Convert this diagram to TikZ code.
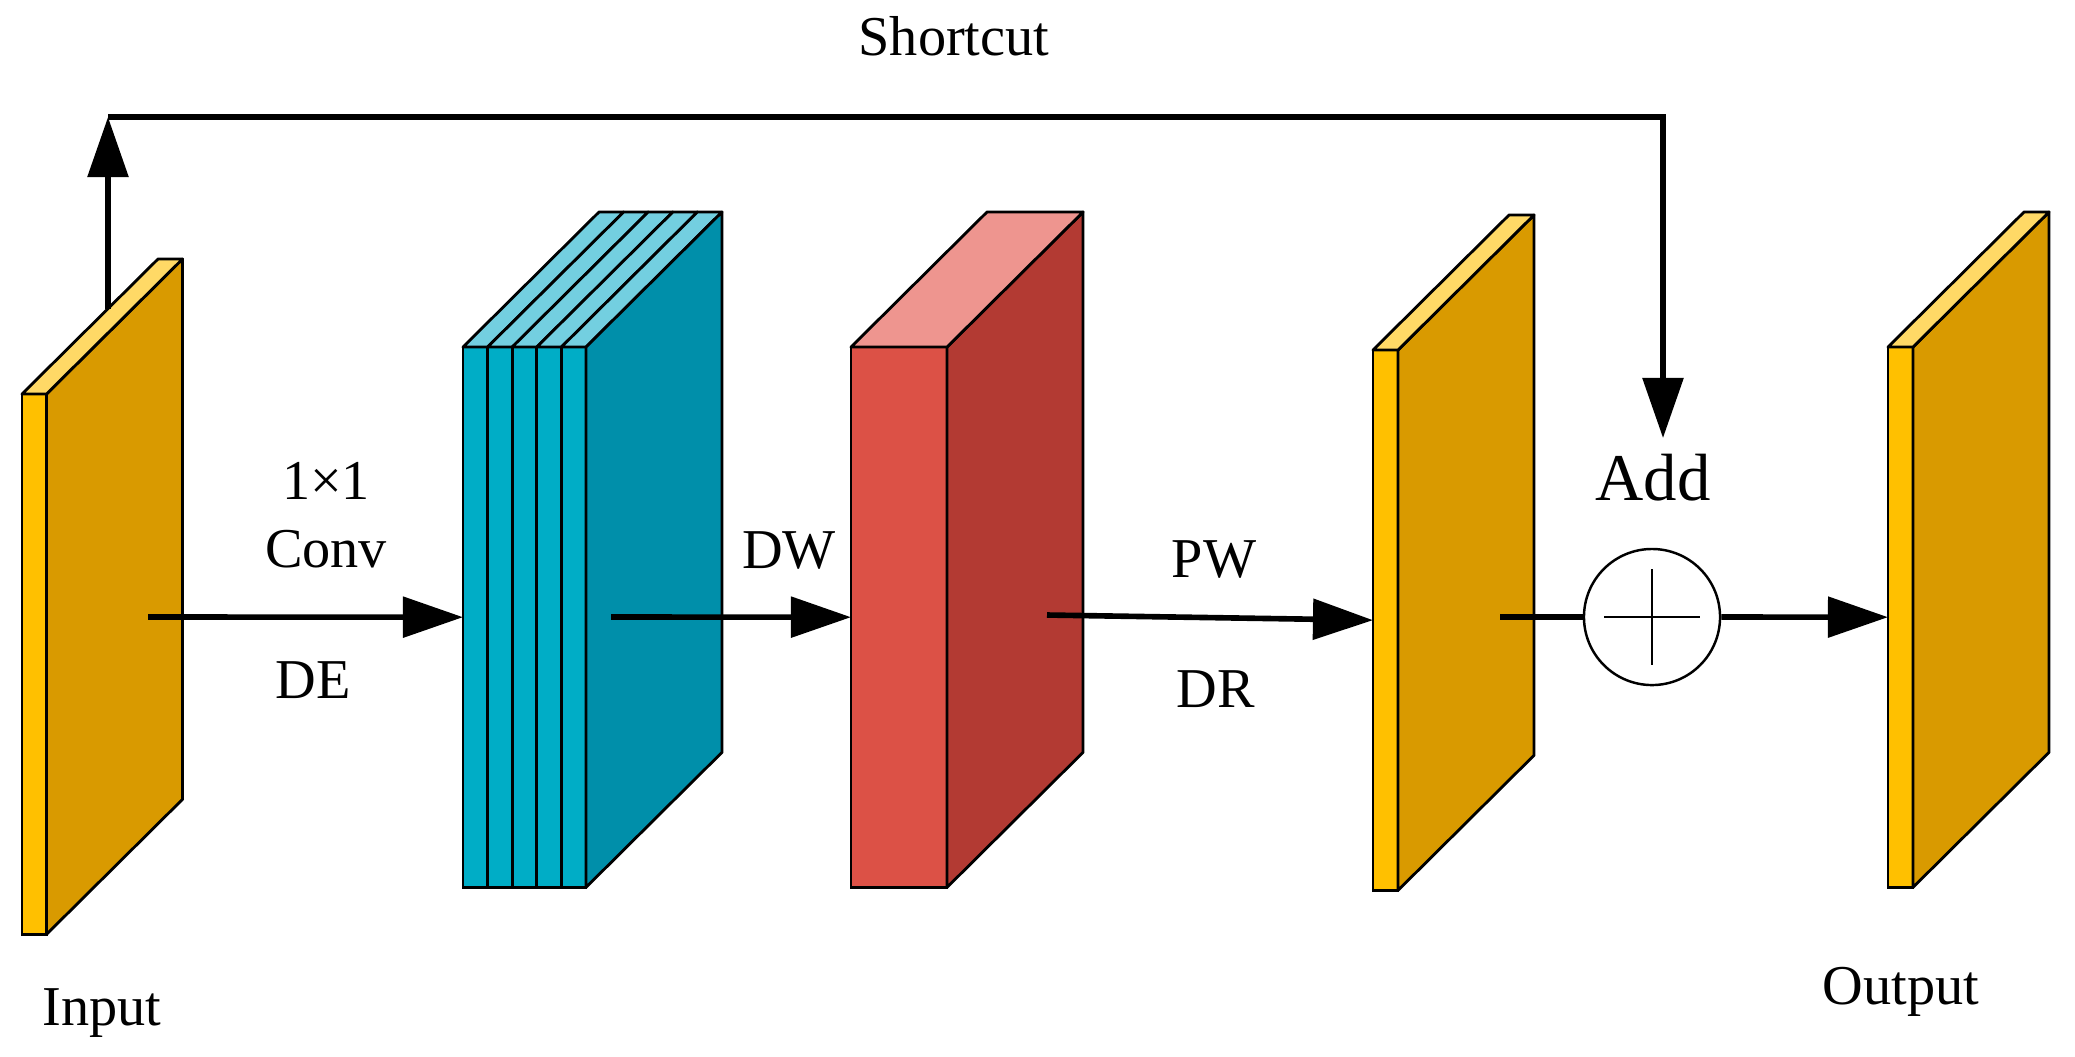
\documentclass[tikz,border=0pt]{standalone}
\usepackage{fontspec}
\setmainfont{Liberation Serif}
\usetikzlibrary{arrows.meta,calc}
\definecolor{goldfront}{RGB}{255,192,0}
\definecolor{goldside}{RGB}{217,154,0}
\definecolor{goldtop}{RGB}{255,217,102}
\definecolor{tealfront}{RGB}{0,173,198}
\definecolor{tealside}{RGB}{0,143,170}
\definecolor{tealtop}{RGB}{115,207,224}
\definecolor{redfront}{RGB}{220,81,70}
\definecolor{redside}{RGB}{179,58,51}
\definecolor{redtop}{RGB}{238,149,143}
\tikzset{
  face/.style={rectangle, draw=black, line width=0.8pt, inner sep=0pt, outer sep=0pt,
               minimum height=5.4cm, anchor=north west},
  edge/.style={draw=black, line width=0.8pt, line join=round},
  arrow/.style={-{Triangle[length=0.6cm, width=0.4cm]}, line width=1.6pt},
  link/.style={line width=1.6pt},
  txt/.style={font=\fontsize{16}{19.2}\selectfont, inner sep=0pt, anchor=base},
  adder/.style={circle, draw=black, line width=0.7pt, minimum size=1.36cm, inner sep=0pt}
}
\newcommand{\slabsides}[3]{%
  \filldraw[edge, fill=#2] (#1.north east) -- ++(136,-135)
    -- ($(#1.south east)+(136,-135)$) -- (#1.south east) -- cycle;
  \filldraw[edge, fill=#3] (#1.north west) -- ++(136,-135)
    -- ($(#1.north east)+(136,-135)$) -- (#1.north east) -- cycle;
}

\begin{document}
\begin{tikzpicture}[x=0.01cm, y=-0.01cm]
\useasboundingbox (0,0) rectangle (2075,1056);
% feature maps
\node[face, fill=goldfront, minimum width=0.245cm] (in) at (22,394) {};
\slabsides{in}{goldside}{goldtop}
\foreach \i in {0,...,4}
  \node[face, fill=tealfront, minimum width=0.246cm] (t\i) at ({463+24.6*\i},347) {};
\foreach \i in {0,...,4}
  \filldraw[edge, fill=tealtop] (t\i.north west) -- ++(136,-135)
    -- ($(t\i.north east)+(136,-135)$) -- (t\i.north east) -- cycle;
\filldraw[edge, fill=tealside] (t4.north east) -- ++(136,-135)
  -- ($(t4.south east)+(136,-135)$) -- (t4.south east) -- cycle;
\node[face, fill=redfront, minimum width=0.96cm] (dw) at (851,347) {};
\slabsides{dw}{redside}{redtop}
\node[face, fill=goldfront, minimum width=0.25cm] (pw) at (1373,350) {};
\slabsides{pw}{goldside}{goldtop}
\node[face, fill=goldfront, minimum width=0.25cm] (out) at (1888,347) {};
\slabsides{out}{goldside}{goldtop}
% add
\node[adder] (add) at (1652,617) {};
\draw[line width=0.6pt] ($(add.center)+(-48,0)$) -- ($(add.center)+(48,0)$)
  ($(add.center)+(0,-48)$) -- ($(add.center)+(0,48)$);
% connectors
\coordinate (in-o) at (148,617);
\coordinate (t-o) at (611,617);
\coordinate (dw-o) at (1047,615);
\coordinate (pw-o) at (1500,617);
\draw[arrow] (in-o) -- (t0.west);
\draw[arrow] (t-o) -- (dw.west);
\draw[arrow] (dw-o) -- (pw.west);
\draw[link] (pw-o) -- (add.west);
\draw[arrow] (add.east) -- (out.west);
% shortcut
\coordinate (sc-a) at (108,309);
\coordinate (sc-b) at (108,117);
\coordinate (sc-c) at (1663,117);
\coordinate (sc-d) at (1663,438);
\draw[arrow] (sc-a) -- (sc-b);
\draw[arrow] (sc-b) -- (sc-c) -- (sc-d);
% labels
\node[txt] (sc-lbl) at (954,55) {Shortcut};
\node[txt, anchor=center, align=center] (conv-lbl) at (326,515) {1×1\\Conv};
\node[txt] (de-lbl) at (313,698) {DE};
\node[txt] (dw-lbl) at (789,568) {DW};
\node[txt] (pw-lbl) at (1214,577) {PW};
\node[txt] (dr-lbl) at (1216,707) {DR};
\node[txt] (in-lbl) at (102,1025) {Input};
\node[txt] (out-lbl) at (1901,1004) {Output};
\node[txt, font=\fontsize{19}{22.8}\selectfont] (add-lbl) at (1653,500) {Add};
\end{tikzpicture}
\end{document}
